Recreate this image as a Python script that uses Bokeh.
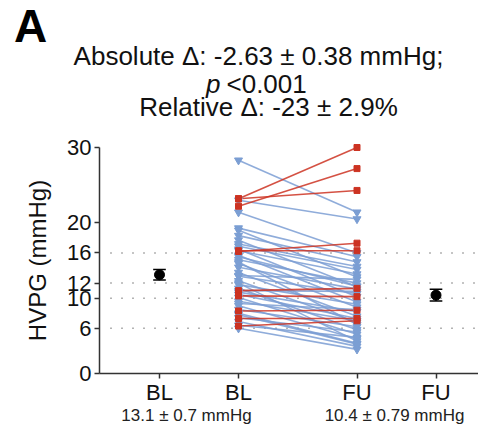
from bokeh.plotting import figure
from bokeh.models import FixedTicker, Label, Whisker, ColumnDataSource
from bokeh.embed import file_html
from bokeh.resources import INLINE

# ---- data ----
tick_labels = ["BL", "BL", "FU", "FU"]
sub_labels = ["13.1 ± 0.7 mmHg", "10.4 ± 0.79 mmHg"]
y_ticks = [0, 6, 10, 12, 16, 20, 30]
ref_lines = [6, 10, 12, 16]

blue_bl = [28.3, 23.0, 21.4, 19.3, 19.0, 18.3, 17.7, 16.9, 16.5, 16.3, 15.7, 15.1,
           14.6, 14.1, 13.4, 12.9, 12.3, 11.8, 11.3, 10.8, 10.1, 9.6, 9.0, 8.5,
           8.0, 7.4, 6.9, 6.4, 6.0, 13.0, 11.0, 9.3, 17.2, 14.8, 12.0, 7.8, 10.5, 15.5]
blue_fu = [21.4, 20.5, 16.0, 15.5, 12.8, 14.8, 11.5, 13.8, 10.2, 13.2, 9.5, 12.0,
           8.8, 11.2, 7.6, 10.6, 6.8, 9.2, 5.8, 8.2, 5.2, 7.0, 4.6, 6.2,
           4.0, 5.5, 3.6, 4.8, 3.2, 12.5, 10.9, 8.5, 14.2, 6.5, 4.3, 3.9, 7.3, 11.6]
red_bl = [23.2, 22.2, 23.2, 16.2, 16.3, 11.0, 10.3, 8.3, 7.3, 6.3]
red_fu = [30.0, 27.2, 24.3, 17.3, 16.3, 11.3, 10.2, 8.4, 7.3, 7.0]

mean_vals = [13.1, 10.4]
mean_err = [0.7, 0.79]

# ---- layout constants (pixels in the 478x425 canvas) ----
W, H = 478, 425
xpos = [1, 2, 3.5, 4.5]
PX_PER_X = 79.0          # pixels per x unit
PX_PER_Y = 226.0 / 30.0  # pixels per y unit
AXIS_PX_X, AXIS_PX_Y = 99, 373
X_AT_PX0 = 1 - 159 / PX_PER_X
Y_AT_PX_BOTTOM = -(H - AXIS_PX_Y) / PX_PER_Y
x_start, x_end = X_AT_PX0, X_AT_PX0 + W / PX_PER_X
y_start, y_end = Y_AT_PX_BOTTOM, Y_AT_PX_BOTTOM + H / PX_PER_Y
y_axis_x = X_AT_PX0 + AXIS_PX_X / PX_PER_X
grid_x0 = X_AT_PX0 + 110 / PX_PER_X

FONT = "Liberation Sans"
BLUE = "#7B9ED3"
RED = "#CC3322"
AX = "#333333"

p = figure(width=W, height=H, output_backend="svg", toolbar_location=None,
           x_range=(x_start, x_end), y_range=(y_start, y_end),
           min_border=0)
p.outline_line_color = None
p.xgrid.visible = False
p.ygrid.visible = False

# axes drawn inside the frame at fixed locations
p.yaxis.fixed_location = y_axis_x
p.yaxis.bounds = (0, 30)
p.xaxis.fixed_location = 0
p.xaxis.bounds = (y_axis_x, x_end)
p.yaxis.ticker = FixedTicker(ticks=y_ticks)
p.xaxis.ticker = FixedTicker(ticks=xpos)
p.xaxis.major_label_overrides = {x: l for x, l in zip(xpos, tick_labels)}
for ax in (p.xaxis[0], p.yaxis[0]):
    ax.axis_line_width = 1.5
    ax.axis_line_color = AX
    ax.major_tick_line_color = AX
    ax.major_tick_line_width = 1.5
    ax.major_tick_out = 5
    ax.major_tick_in = 0
    ax.minor_tick_line_color = None
    ax.major_label_text_font = FONT
    ax.major_label_text_color = "#111111"
p.yaxis.major_label_text_font_size = "22px"
p.xaxis.major_label_text_font_size = "22px"
p.xaxis.major_label_standoff = 1
p.yaxis.major_label_standoff = 3
p.yaxis.axis_label = "HVPG (mmHg)"
p.yaxis.axis_label_text_font = FONT
p.yaxis.axis_label_text_font_size = "24px"
p.yaxis.axis_label_text_font_style = "normal"
p.yaxis.axis_label_text_color = "#111111"
p.yaxis.axis_label_standoff = 13

# dotted reference lines
p.segment(x0=[grid_x0] * len(ref_lines), x1=[x_end] * len(ref_lines),
          y0=ref_lines, y1=ref_lines, line_color="#666666",
          line_width=1.5, line_dash="1 10")

# paired lines
p.multi_line(xs=[[xpos[1], xpos[2]] for _ in blue_bl],
             ys=[[a, b] for a, b in zip(blue_bl, blue_fu)],
             line_color=BLUE, line_width=1.6, line_alpha=0.85)
p.multi_line(xs=[[xpos[1], xpos[2]] for _ in red_bl],
             ys=[[a, b] for a, b in zip(red_bl, red_fu)],
             line_color=RED, line_width=1.6, line_alpha=0.85)
p.scatter([xpos[1]] * len(blue_bl), blue_bl, marker="inverted_triangle", size=8,
          fill_color=BLUE, line_color=BLUE)
p.scatter([xpos[2]] * len(blue_fu), blue_fu, marker="inverted_triangle", size=8,
          fill_color=BLUE, line_color=BLUE)
p.scatter([xpos[1]] * len(red_bl), red_bl, marker="square", size=6,
          fill_color=RED, line_color=RED)
p.scatter([xpos[2]] * len(red_fu), red_fu, marker="square", size=6,
          fill_color=RED, line_color=RED)

# means with error bars
msrc = ColumnDataSource(dict(x=[xpos[0], xpos[3]], y=mean_vals,
                             lo=[m - e for m, e in zip(mean_vals, mean_err)],
                             hi=[m + e for m, e in zip(mean_vals, mean_err)]))
p.add_layout(Whisker(source=msrc, base="x", lower="lo", upper="hi", dimension="height",
                     line_color="black", line_width=1.5,
                     upper_head=None, lower_head=None))
cap = 0.08
p.segment(x0=[xpos[0] - cap, xpos[3] - cap], x1=[xpos[0] + cap, xpos[3] + cap],
          y0=msrc.data["hi"], y1=msrc.data["hi"], line_color="black", line_width=1.5)
p.segment(x0=[xpos[0] - cap, xpos[3] - cap], x1=[xpos[0] + cap, xpos[3] + cap],
          y0=msrc.data["lo"], y1=msrc.data["lo"], line_color="black", line_width=1.5)
p.scatter("x", "y", source=msrc, size=10, fill_color="black", line_color="black")

# texts (screen units: origin at bottom-left of the canvas-sized frame)
def lab(x, y, text, size, align="center", style="normal", color="#111111"):
    p.add_layout(Label(x=x, y=H - y, x_units="screen", y_units="screen", text=text,
                       text_font=FONT, text_font_size=size, text_font_style=style,
                       text_align=align, text_baseline="middle", text_color=color))

for x, t in zip([186, 394], sub_labels):
    lab(x, 415, t, "17px", color="#222222")
lab(30, 25, "A", "46px", style="bold", color="black")
lab(258, 55, "Absolute Δ: -2.63 ± 0.38 mmHg;", "26px")
lab(220, 83, "p", "26px", align="right", style="italic")
lab(226, 83, "<0.001", "26px", align="left")
lab(268, 106, "Relative Δ: -23 ± 2.9%", "26px")

open("out.html", "w").write(file_html(p, INLINE))
